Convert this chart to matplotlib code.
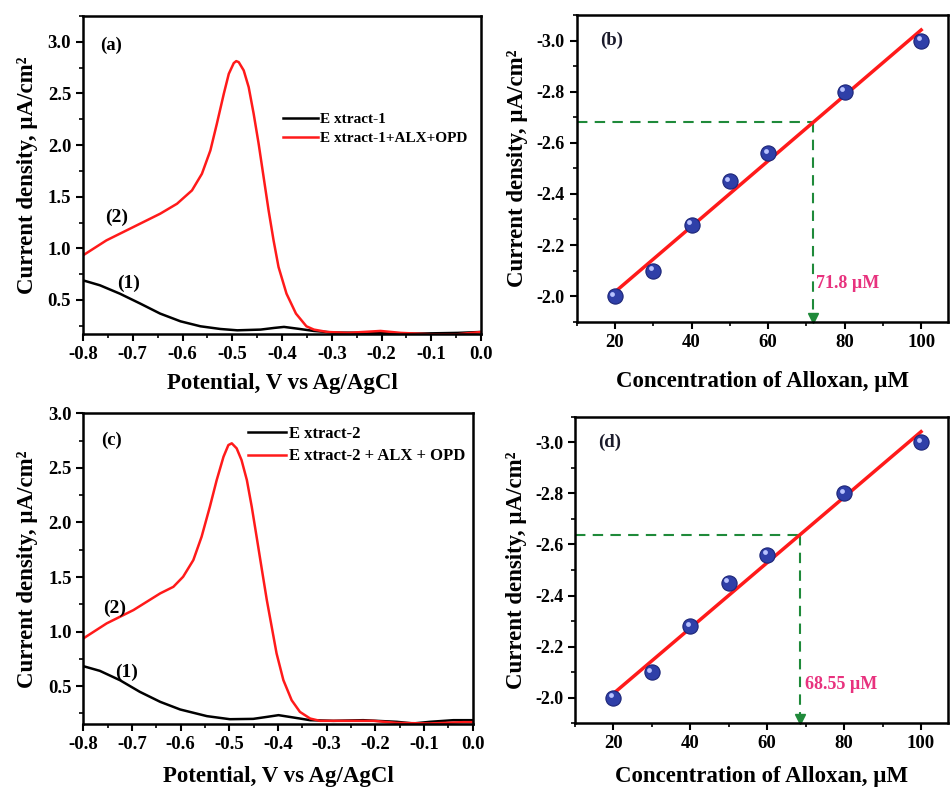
import matplotlib
matplotlib.use("Agg")
import matplotlib.pyplot as plt
import matplotlib.transforms as mtransforms
from matplotlib.ticker import MultipleLocator
import numpy as np

plt.rcParams['font.family'] = ['Liberation Serif', 'DejaVu Serif']
plt.rcParams['font.weight'] = 'bold'
plt.rcParams['axes.unicode_minus'] = False

# voltammograms, extract 1 (panel a)
pot_red_1 = [-0.8, -0.753, -0.699, -0.645, -0.611, -0.581, -0.561, -0.544, -0.531, -0.517,
             -0.507, -0.497, -0.492, -0.487, -0.477, -0.467, -0.457, -0.447, -0.437, -0.427,
             -0.417, -0.407, -0.391, -0.372, -0.351, -0.336, -0.309, -0.268, -0.202, -0.161,
             -0.101, -0.047, 0.0]
cur_red_1 = [0.932, 1.077, 1.206, 1.335, 1.432, 1.561, 1.722, 1.948, 2.206, 2.497,
             2.69, 2.794, 2.813, 2.803, 2.723, 2.561, 2.303, 2.013, 1.69, 1.368,
             1.077, 0.819, 0.561, 0.368, 0.245, 0.213, 0.19, 0.181, 0.2, 0.181,
             0.168, 0.168, 0.19]
pot_blk_1 = [-0.8, -0.766, -0.726, -0.685, -0.645, -0.604, -0.564, -0.524, -0.49, -0.443,
             -0.416, -0.396, -0.369, -0.336, -0.296, -0.202, -0.134, -0.047, 0.0]
cur_blk_1 = [0.69, 0.642, 0.561, 0.465, 0.368, 0.293, 0.245, 0.219, 0.206, 0.213,
             0.229, 0.239, 0.222, 0.2, 0.184, 0.181, 0.174, 0.181, 0.19]

# voltammograms, extract 2 (panel c)
pot_red_2 = [-0.8, -0.752, -0.697, -0.642, -0.615, -0.595, -0.574, -0.557, -0.54, -0.526,
             -0.512, -0.502, -0.495, -0.485, -0.475, -0.464, -0.454, -0.444, -0.433, -0.423,
             -0.413, -0.403, -0.389, -0.372, -0.355, -0.334, -0.314, -0.259, -0.204, -0.156,
             -0.088, -0.019, 0.0]
cur_red_2 = [0.937, 1.075, 1.197, 1.35, 1.41, 1.502, 1.655, 1.869, 2.144, 2.388,
             2.602, 2.709, 2.725, 2.679, 2.572, 2.388, 2.144, 1.869, 1.563, 1.288,
             1.044, 0.8, 0.555, 0.371, 0.264, 0.203, 0.182, 0.182, 0.182, 0.163,
             0.158, 0.17, 0.17]
pot_blk_2 = [-0.8, -0.766, -0.725, -0.684, -0.642, -0.601, -0.546, -0.499, -0.451, -0.423,
             -0.399, -0.369, -0.334, -0.286, -0.225, -0.156, -0.122, -0.088, -0.04, 0.0]
cur_blk_2 = [0.683, 0.64, 0.555, 0.448, 0.356, 0.286, 0.225, 0.197, 0.2, 0.218,
             0.234, 0.213, 0.188, 0.182, 0.188, 0.173, 0.158, 0.173, 0.188, 0.188]

# calibration points (same for b and d)
conc = [20, 30, 40, 50, 60, 80, 100]
dens = [-2.0, -2.1, -2.28, -2.45, -2.56, -2.8, -3.0]
found_1 = 71.8
found_2 = 68.55

fig = plt.figure(figsize=(9.51, 7.88), dpi=100, facecolor='white')


def style_axes(ax):
    for s in ax.spines.values():
        s.set_linewidth(1.8)
    ax.tick_params(which='major', direction='out', length=5, width=1.5, labelsize=13.5)
    ax.tick_params(which='minor', direction='out', length=3, width=1.2)
    for lab in ax.get_xticklabels() + ax.get_yticklabels():
        lab.set_fontweight('bold')


def cv_panel(rect, pr, cr, pb, cb, ylim, tag, leg_names, leg_anchor, leg_size, leg_space,
             lab1, lab2, tagpos, xpad):
    ax = fig.add_axes(rect)
    ax.plot(pb, cb, color='black', lw=1.8, label=leg_names[0])
    ax.plot(pr, cr, color='#ff1a1a', lw=1.8, label=leg_names[1])
    ax.set_xlim(-0.8, 0.0)
    ax.set_ylim(*ylim)
    ax.xaxis.set_minor_locator(MultipleLocator(0.05))
    ax.yaxis.set_minor_locator(MultipleLocator(0.25))
    xt = np.round(np.arange(-0.8, 0.01, 0.1), 1)
    ax.set_xticks(xt)
    ax.set_xticklabels(['%.1f' % abs(v) if v == 0 else '%.1f' % v for v in xt])
    ax.set_yticks([0.5, 1.0, 1.5, 2.0, 2.5, 3.0])
    style_axes(ax)
    ax.set_xlabel('Potential, V vs Ag/AgCl', fontsize=16.5, fontweight='bold', labelpad=xpad)
    ax.set_ylabel('Current density, µA/cm²', fontsize=16.5, fontweight='bold', labelpad=7)
    ax.text(tagpos[0], tagpos[1], tag, fontsize=13.5, fontweight='bold', ha='center', va='center')
    ax.text(lab1[0], lab1[1], '(1)', fontsize=14, fontweight='bold', ha='center', va='center')
    ax.text(lab2[0], lab2[1], '(2)', fontsize=14, fontweight='bold', ha='center', va='center')
    ax.legend(loc='upper left', bbox_to_anchor=leg_anchor, frameon=False,
              borderaxespad=0, borderpad=0, handlelength=2.3, handletextpad=0.15,
              labelspacing=leg_space, prop={'size': leg_size, 'weight': 'bold'})
    return ax


def cal_panel(rect, found, tag, txtpos, xpad):
    ax = fig.add_axes(rect)
    slope, icpt = np.polyfit(conc, dens, 1)
    xf = np.array([20, 100])
    ax.plot(xf, slope * xf + icpt, color='#ff1a1a', lw=2.5, zorder=3)
    # glossy balls: dark body plus small highlight
    ax.scatter(conc, dens, s=120, color='#2f3fa8', edgecolors='#1c2577', linewidths=0.8, zorder=4)
    hl = mtransforms.offset_copy(ax.transData, fig=fig, x=-1.8, y=1.8, units='points')
    ax.scatter(conc, dens, s=12, color='#b8c2ff', transform=hl, zorder=5, linewidths=0)

    yf = slope * found + icpt
    ax.set_xlim(10, 107)
    ax.set_ylim(-1.9, -3.1)
    green = '#1f8a3a'
    ax.plot([10, found], [yf, yf], color=green, lw=1.5, ls=(0, (5, 3.5)), zorder=2)
    ax.plot([found, found], [yf, -1.92], color=green, lw=1.5, ls=(0, (5, 3.5)), zorder=2)
    ax.plot([found], [-1.915], marker='v', color=green, ms=7, clip_on=False, zorder=2)
    ax.text(txtpos[0], txtpos[1], '%g µM' % found, color='#e8327e', fontsize=13,
            fontweight='bold', ha='left', va='center')

    ax.xaxis.set_minor_locator(MultipleLocator(10))
    ax.yaxis.set_minor_locator(MultipleLocator(0.1))
    ax.set_xticks([20, 40, 60, 80, 100])
    yt = [-3.0, -2.8, -2.6, -2.4, -2.2, -2.0]
    ax.set_yticks(yt)
    ax.set_yticklabels(['%.1f' % v for v in yt])
    style_axes(ax)
    ax.tick_params(axis='y', labelsize=13)
    ax.set_xlabel('Concentration of Alloxan, µM', fontsize=16.5, fontweight='bold', labelpad=xpad)
    ax.set_ylabel('Current density, µA/cm²', fontsize=16.5, fontweight='bold', labelpad=6)
    ax.text(19, -3.0, tag, fontsize=13.5, fontweight='bold', ha='center', va='center', color='#1a1a2a')
    return ax


cv_panel([0.0873, 0.5761, 0.4185, 0.4036], pot_red_1, cur_red_1, pot_blk_1, cur_blk_1,
         (0.17, 3.25), '(a)', ['E xtract-1', 'E xtract-1+ALX+OPD'], (0.5025, 0.697), 11, 0.37,
         (-0.709, 0.658), (-0.733, 1.303), (-0.743, 2.965), 7)
cv_panel([0.0876, 0.0808, 0.4095, 0.3947], pot_red_2, cur_red_2, pot_blk_2, cur_blk_2,
         (0.15, 3.0), '(c)', ['E xtract-2', 'E xtract-2 + ALX + OPD'], (0.423, 0.96), 12, 0.4,
         (-0.711, 0.622), (-0.735, 1.212), (-0.742, 2.749), 9)

cal_panel([0.6064, 0.5917, 0.3904, 0.3893], found_1, '(b)', (72.5, -2.05), 15)
cal_panel([0.6046, 0.0821, 0.3922, 0.3891], found_2, '(d)', (69.8, -2.05), 10)

plt.savefig('out.png', dpi=100, facecolor='white')
